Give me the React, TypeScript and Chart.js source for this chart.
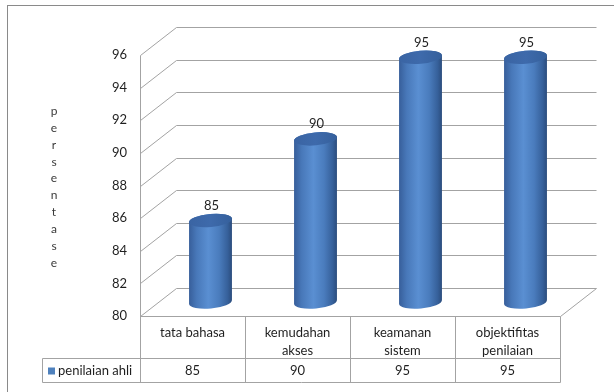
import React, { useEffect, useRef } from "react";
import { Chart, registerables } from "chart.js";

Chart.register(...registerables);

// ---- data ----
const categoryLines: string[][] = [
  ["tata bahasa"],
  ["kemudahan", "akses"],
  ["keamanan", "sistem"],
  ["objektifitas", "penilaian"],
];
const categories: string[] = categoryLines.map((l) => l.join(" "));
const seriesName = "penilaian ahli";
const values: number[] = [85, 90, 95, 95];
const yMin = 80;
const yMax = 96;
const yStep = 2;
const axisTitle = "persentase";

// ---- styles ----
const FONT = 'Lato, "Liberation Sans", sans-serif';
const TEXT = "#1f1f1f";
const GRID = "#a3a3a3";
const DX = 36;
const DY = -28;

function line(ctx: CanvasRenderingContext2D, pts: number[][]) {
  ctx.beginPath();
  ctx.moveTo(pts[0][0], pts[0][1]);
  for (let i = 1; i < pts.length; i++) ctx.lineTo(pts[i][0], pts[i][1]);
  ctx.stroke();
}

function cylinder(
  ctx: CanvasRenderingContext2D,
  cx: number,
  topY: number,
  botY: number,
  rx: number,
  ry: number,
  rot: number
) {
  const ex = rx * Math.cos(rot);
  const ey = rx * Math.sin(rot);
  const g = ctx.createLinearGradient(cx - rx, 0, cx + rx, 0);
  g.addColorStop(0, "#375e9a");
  g.addColorStop(0.18, "#4878b9");
  g.addColorStop(0.45, "#5a8fd2");
  g.addColorStop(0.7, "#4a7cbd");
  g.addColorStop(0.9, "#36609a");
  g.addColorStop(1, "#2b4c7c");
  ctx.beginPath();
  ctx.ellipse(cx, botY, rx, ry, rot, 0, Math.PI, false);
  ctx.lineTo(cx - ex, topY - ey);
  ctx.ellipse(cx, topY, rx, ry, rot, Math.PI, 2 * Math.PI, false);
  ctx.closePath();
  ctx.fillStyle = g;
  ctx.fill();
  const tg = ctx.createLinearGradient(cx - rx, 0, cx + rx, 0);
  tg.addColorStop(0, "#3a64a3");
  tg.addColorStop(0.5, "#3e6aab");
  tg.addColorStop(1, "#35609c");
  ctx.beginPath();
  ctx.ellipse(cx, topY, rx, ry, rot, 0, 2 * Math.PI);
  ctx.fillStyle = tg;
  ctx.fill();
}

const excel3d = {
  id: "excel3d",
  beforeDraw(chart: any) {
    const ctx = chart.ctx as CanvasRenderingContext2D;
    ctx.save();
    ctx.fillStyle = "#ffffff";
    ctx.fillRect(0, 0, chart.width, chart.height);
    ctx.strokeStyle = "#8a8a8a";
    ctx.lineWidth = 1;
    ctx.strokeRect(7.5, 5.5, chart.width + 20, chart.height + 20);
    ctx.restore();
  },
  beforeDatasetsDraw(chart: any) {
    const ctx = chart.ctx as CanvasRenderingContext2D;
    const ys = chart.scales.y;
    const { left, right, bottom } = chart.chartArea;
    const L = Math.round(left) + 0.5;
    const R = Math.round(right) + 0.5;
    ctx.save();
    ctx.strokeStyle = GRID;
    ctx.lineWidth = 1;
    ys.ticks.forEach((t: any) => {
      const y = Math.round(ys.getPixelForValue(t.value)) + 0.5;
      line(ctx, [
        [L, y],
        [L + DX, y + DY],
        [R + DX, y + DY],
      ]);
    });
    const yb = Math.round(bottom) + 0.5;
    // floor right edge
    line(ctx, [
      [R, yb],
      [R + DX, yb + DY],
    ]);
    // front vertical axis line
    const yTop = Math.round(ys.getPixelForValue(yMax)) + 0.5;
    line(ctx, [
      [L, yTop],
      [L, yb + 66],
    ]);
    ctx.restore();
  },
  afterDatasetsDraw(chart: any) {
    const ctx = chart.ctx as CanvasRenderingContext2D;
    const ys = chart.scales.y;
    const xs = chart.scales.x;
    const meta = chart.getDatasetMeta(0);
    const { left, right, top, bottom } = chart.chartArea;
    const colW = (right - left) / categories.length;
    const rx = colW * 0.205;
    const ry = 6.5;
    const rot = -0.09;
    ctx.save();
    meta.data.forEach((el: any, i: number) => {
      const cx = el.x + DX / 2;
      const topY = ys.getPixelForValue(values[i]) + DY / 2;
      const botY = ys.getPixelForValue(yMin) + DY / 2;
      cylinder(ctx, cx, topY, botY, rx, ry, rot);
      ctx.fillStyle = TEXT;
      ctx.font = `13px ${FONT}`;
      ctx.textAlign = "center";
      ctx.textBaseline = "middle";
      ctx.fillText(String(values[i]), cx + 1, topY - 15);
    });

    // data table
    const L = Math.round(left) + 0.5;
    const R = Math.round(right) + 0.5;
    const yb = Math.round(bottom) + 0.5;
    const rowMid = yb + 42;
    const rowBot = yb + 66;
    const legL = 42.5;
    ctx.strokeStyle = GRID;
    ctx.lineWidth = 1;
    line(ctx, [
      [L, yb],
      [R, yb],
    ]);
    line(ctx, [
      [legL, rowMid],
      [R, rowMid],
    ]);
    line(ctx, [
      [legL, rowBot],
      [R, rowBot],
    ]);
    line(ctx, [
      [legL, rowMid],
      [legL, rowBot],
    ]);
    for (let i = 1; i <= categories.length; i++) {
      const x = Math.round(left + i * colW) + 0.5;
      line(ctx, [
        [x, yb],
        [x, rowBot],
      ]);
    }
    ctx.fillStyle = TEXT;
    ctx.font = `13px ${FONT}`;
    ctx.textAlign = "center";
    ctx.textBaseline = "middle";
    categoryLines.forEach((lines, i) => {
      const cx = xs.getPixelForValue(i);
      lines.forEach((s, j) => ctx.fillText(s, cx, yb + 16 + j * 18));
      ctx.fillText(String(values[i]), cx, rowMid + 12.5);
    });
    // legend cell
    ctx.fillStyle = "#4f81bd";
    ctx.fillRect(48, rowMid + 9, 7, 7);
    ctx.fillStyle = TEXT;
    ctx.textAlign = "left";
    ctx.fillText(seriesName, 58, rowMid + 12.5);

    // vertical axis title, stacked letters
    ctx.fillStyle = "#3a3a3a";
    ctx.font = `12px ${FONT}`;
    ctx.textAlign = "center";
    const letters = axisTitle.split("");
    const step = 16.9;
    const midY = (top + bottom) / 2 + 1.5;
    letters.forEach((ch, i) => {
      ctx.fillText(ch, 54, midY + (i - (letters.length - 1) / 2) * step);
    });
    ctx.restore();
  },
};

export default function App() {
  const ref = useRef<HTMLCanvasElement | null>(null);
  useEffect(() => {
    document.body.style.margin = "0";
    const canvas = ref.current!;
    const chart = new Chart(canvas, {
      type: "bar",
      data: {
        labels: categories,
        datasets: [
          {
            label: seriesName,
            data: values,
            backgroundColor: "rgba(0,0,0,0)",
            borderWidth: 0,
          },
        ],
      },
      options: {
        responsive: false,
        animation: false,
        devicePixelRatio: 1,
        layout: { padding: { left: 0, right: 54, top: 55, bottom: 76 } },
        plugins: { legend: { display: false }, tooltip: { enabled: false } },
        scales: {
          x: { display: false },
          y: {
            min: yMin,
            max: yMax,
            ticks: {
              stepSize: yStep,
              padding: 13,
              color: TEXT,
              font: { family: FONT, size: 13 },
            },
            grid: { display: false, drawTicks: false },
            border: { display: false },
            afterFit: (s: any) => {
              s.width = 140;
            },
          },
        },
      },
      plugins: [excel3d],
    });
    return () => chart.destroy();
  }, []);
  return (
    <div style={{ width: 614, height: 392 }}>
      <canvas ref={ref} width={614} height={392} style={{ display: "block" }} />
    </div>
  );
}
